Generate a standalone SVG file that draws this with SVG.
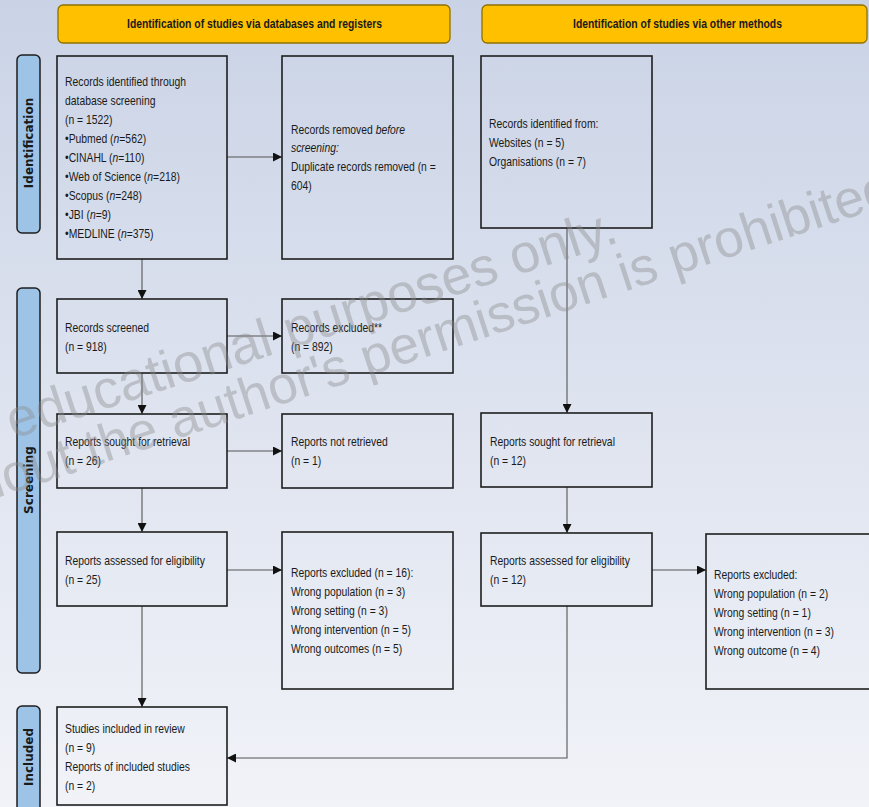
<svg xmlns="http://www.w3.org/2000/svg" width="869" height="807" viewBox="0 0 869 807">
<defs>
<linearGradient id="bg" x1="0" y1="0" x2="0" y2="1">
<stop offset="0" stop-color="#cad3e6"/>
<stop offset="1" stop-color="#f1f3f8"/>
</linearGradient>
<marker id="ah" viewBox="0 0 10 10" refX="10" refY="5" markerWidth="9" markerHeight="9" markerUnits="userSpaceOnUse" orient="auto">
<path d="M0,0 L10,5 L0,10 Z" fill="#111"/>
</marker>
<style>
.box{fill:none;stroke:#1e1e1e;stroke-width:1.6}
.hdr{fill:#ffc000;stroke:#8f7000;stroke-width:1.3}
.bar{fill:#9dc3e6;stroke:#1e1e1e;stroke-width:1.5}
.t{font-family:"Liberation Sans",Arial,sans-serif;font-size:12.5px;fill:#1a1a1a}
.h{font-family:"Liberation Sans",Arial,sans-serif;font-size:13px;font-weight:bold;fill:#1a1a1a}
.s{font-family:"DejaVu Sans",Verdana,sans-serif;font-size:12px;font-weight:bold;fill:#1a1a1a}
.c{fill:none;stroke:#555;stroke-width:1.1}
.wm{font-family:"Liberation Sans",Arial,sans-serif;fill:#8a8a8a;fill-opacity:0.4}
</style>
</defs>
<rect x="0" y="0" width="869" height="807" fill="url(#bg)"/>

<g id="header-databases">
<rect class="hdr" x="58" y="5" width="392" height="38" rx="5"/>
<text class="h" x="127" y="28" textLength="255" lengthAdjust="spacingAndGlyphs">Identification of studies via databases and registers</text>
</g>
<g id="header-other">
<rect class="hdr" x="482" y="5" width="385" height="38" rx="5"/>
<text class="h" x="573" y="28" textLength="209" lengthAdjust="spacingAndGlyphs">Identification of studies via other methods</text>
</g>

<g id="bar-identification">
<rect class="bar" x="17" y="55" width="23" height="178" rx="5"/>
<text class="s" transform="translate(33,143) rotate(-90)" text-anchor="middle">Identification</text>
</g>
<g id="bar-screening">
<rect class="bar" x="17" y="288" width="23" height="385" rx="5"/>
<text class="s" transform="translate(33,480) rotate(-90)" text-anchor="middle">Screening</text>
</g>
<g id="bar-included">
<rect class="bar" x="17" y="706" width="23" height="120" rx="5"/>
<text class="s" transform="translate(33,757) rotate(-90)" text-anchor="middle">Included</text>
</g>

<g id="connectors">
<path class="c" d="M227,157 H282" marker-end="url(#ah)"/>
<path class="c" d="M142,259 V299" marker-end="url(#ah)"/>
<path class="c" d="M227,336 H282" marker-end="url(#ah)"/>
<path class="c" d="M142,373 V414" marker-end="url(#ah)"/>
<path class="c" d="M227,451 H282" marker-end="url(#ah)"/>
<path class="c" d="M142,488 V532" marker-end="url(#ah)"/>
<path class="c" d="M227,570 H282" marker-end="url(#ah)"/>
<path class="c" d="M142,606 V707" marker-end="url(#ah)"/>
<path class="c" d="M567,228 V413" marker-end="url(#ah)"/>
<path class="c" d="M567,487 V533" marker-end="url(#ah)"/>
<path class="c" d="M652,570 H706" marker-end="url(#ah)"/>
<path class="c" d="M567,606 V758 H227" marker-end="url(#ah)"/>
</g>

<g id="records-identified">
<rect class="box" x="57" y="56" width="170" height="203"/>
<text class="t" transform="translate(65,0) scale(0.83,1)">
<tspan x="0" y="86">Records identified through</tspan>
<tspan x="0" y="105">database screening</tspan>
<tspan x="0" y="124">(n = 1522)</tspan>
<tspan x="0" y="143">•Pubmed (<tspan font-style="italic">n</tspan>=562)</tspan>
<tspan x="0" y="162">•CINAHL (<tspan font-style="italic">n</tspan>=110)</tspan>
<tspan x="0" y="181">•Web of Science (<tspan font-style="italic">n</tspan>=218)</tspan>
<tspan x="0" y="200">•Scopus (<tspan font-style="italic">n</tspan>=248)</tspan>
<tspan x="0" y="219">•JBI (<tspan font-style="italic">n</tspan>=9)</tspan>
<tspan x="0" y="238">•MEDLINE (<tspan font-style="italic">n</tspan>=375)</tspan>
</text>
</g>

<g id="records-removed">
<rect class="box" x="282" y="56" width="171" height="203"/>
<text class="t" transform="translate(291,0) scale(0.83,1)">
<tspan x="0" y="134">Records removed <tspan font-style="italic">before</tspan></tspan>
<tspan x="0" y="152" font-style="italic">screening:</tspan>
<tspan x="0" y="171">Duplicate records removed  (n =</tspan>
<tspan x="0" y="190">604)</tspan>
</text>
</g>

<g id="records-other">
<rect class="box" x="481" y="56" width="171" height="172"/>
<text class="t" transform="translate(489,0) scale(0.83,1)">
<tspan x="0" y="128">Records identified from:</tspan>
<tspan x="0" y="147">Websites (n = 5)</tspan>
<tspan x="0" y="166">Organisations (n = 7)</tspan>
</text>
</g>

<g id="records-screened">
<rect class="box" x="57" y="299" width="170" height="74"/>
<text class="t" transform="translate(65,0) scale(0.83,1)">
<tspan x="0" y="332">Records screened</tspan>
<tspan x="0" y="351">(n = 918)</tspan>
</text>
</g>

<g id="records-excluded">
<rect class="box" x="282" y="299" width="171" height="74"/>
<text class="t" transform="translate(291,0) scale(0.83,1)">
<tspan x="0" y="332">Records excluded**</tspan>
<tspan x="0" y="351">(n = 892)</tspan>
</text>
</g>

<g id="reports-sought">
<rect class="box" x="57" y="414" width="170" height="74"/>
<text class="t" transform="translate(65,0) scale(0.83,1)">
<tspan x="0" y="446">Reports sought for retrieval</tspan>
<tspan x="0" y="465">(n = 26)</tspan>
</text>
</g>

<g id="reports-not-retrieved">
<rect class="box" x="282" y="414" width="171" height="74"/>
<text class="t" transform="translate(291,0) scale(0.83,1)">
<tspan x="0" y="446">Reports not retrieved</tspan>
<tspan x="0" y="465">(n = 1)</tspan>
</text>
</g>

<g id="reports-sought-other">
<rect class="box" x="481" y="413" width="171" height="74"/>
<text class="t" transform="translate(490,0) scale(0.83,1)">
<tspan x="0" y="446">Reports sought for retrieval</tspan>
<tspan x="0" y="465">(n = 12)</tspan>
</text>
</g>

<g id="reports-assessed">
<rect class="box" x="57" y="532" width="170" height="74"/>
<text class="t" transform="translate(65,0) scale(0.83,1)">
<tspan x="0" y="565">Reports assessed for eligibility</tspan>
<tspan x="0" y="584">(n = 25)</tspan>
</text>
</g>

<g id="reports-excluded">
<rect class="box" x="282" y="532" width="171" height="157"/>
<text class="t" transform="translate(291,0) scale(0.83,1)">
<tspan x="0" y="577">Reports excluded (n = 16):</tspan>
<tspan x="0" y="596">Wrong population (n = 3)</tspan>
<tspan x="0" y="615">Wrong setting (n = 3)</tspan>
<tspan x="0" y="634">Wrong intervention  (n = 5)</tspan>
<tspan x="0" y="653">Wrong outcomes (n = 5)</tspan>
</text>
</g>

<g id="reports-assessed-other">
<rect class="box" x="481" y="533" width="171" height="73"/>
<text class="t" transform="translate(490,0) scale(0.83,1)">
<tspan x="0" y="565">Reports assessed for eligibility</tspan>
<tspan x="0" y="584">(n = 12)</tspan>
</text>
</g>

<g id="reports-excluded-other">
<rect class="box" x="706" y="534" width="170" height="155"/>
<text class="t" transform="translate(714,0) scale(0.83,1)">
<tspan x="0" y="579">Reports excluded:</tspan>
<tspan x="0" y="598">Wrong population (n = 2)</tspan>
<tspan x="0" y="617">Wrong setting (n = 1)</tspan>
<tspan x="0" y="636">Wrong intervention  (n = 3)</tspan>
<tspan x="0" y="655">Wrong outcome (n = 4)</tspan>
</text>
</g>

<g id="studies-included">
<rect class="box" x="57" y="707" width="170" height="98"/>
<text class="t" transform="translate(65,0) scale(0.83,1)">
<tspan x="0" y="733">Studies included in review</tspan>
<tspan x="0" y="752">(n = 9)</tspan>
<tspan x="0" y="771">Reports of included studies</tspan>
<tspan x="0" y="790">(n = 2)</tspan>
</text>
</g>

<g id="watermark">
<text class="wm" font-size="54" transform="translate(13,439) rotate(-18)">educational purposes only.</text>
<text class="wm" font-size="53" transform="translate(-82,524) rotate(-18.2)">without the author's permission is prohibited</text>
</g>
</svg>
